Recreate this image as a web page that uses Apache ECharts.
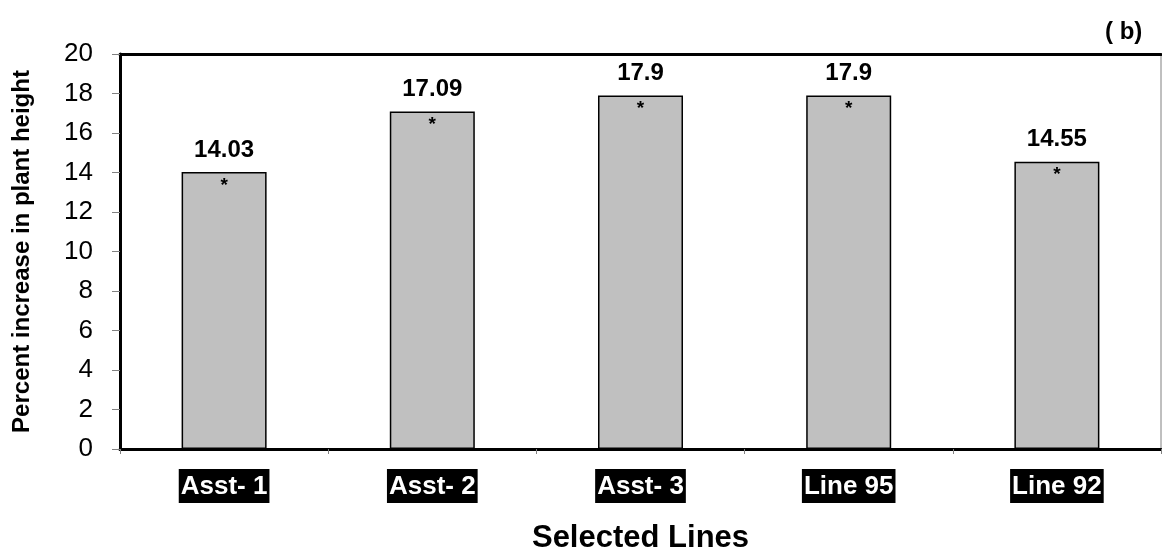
<!DOCTYPE html>
<html>
<head>
<meta charset="utf-8">
<script src="https://cdn.jsdelivr.net/npm/echarts@6/dist/echarts.min.js"></script>
<style>
  html, body { margin: 0; padding: 0; background: #fff; }
  #chart { width: 1162px; height: 550px; }
</style>
</head>
<body>
<div id="chart"></div>
<script>
// Selected lines and their percent increase in plant height
const categories = ['Asst- 1', 'Asst- 2', 'Asst- 3', 'Line 95', 'Line 92'];
const increase = [14.03, 17.09, 17.9, 17.9, 14.55];
const significance = ['*', '*', '*', '*', '*'];
const yTicks = { min: 0, max: 20, interval: 2 };

const FONT = 'Arial, "Liberation Sans", Helvetica, sans-serif';

const chart = echarts.init(document.getElementById('chart'), null, { renderer: 'canvas' });

chart.setOption({
  animation: false,
  backgroundColor: '#ffffff',
  textStyle: { fontFamily: FONT },
  grid: {
    left: 120, right: 1, top: 54, bottom: 101,
    containLabel: false,
    outerBoundsMode: 'none',
    show: true, borderColor: '#808080', borderWidth: 1, backgroundColor: 'transparent'
  },
  graphic: [{
    type: 'text',
    left: 1105, top: 20,
    style: { text: '( b)', font: 'bold 24px ' + FONT, fill: '#000' }
  }],
  xAxis: [{
    type: 'category',
    data: categories,
    position: 'bottom',
    axisLine: { lineStyle: { color: '#000', width: 3 } },
    axisTick: { show: true, alignWithLabel: false, length: 5, lineStyle: { color: '#808080', width: 1 } },
    axisLabel: {
      margin: 20,
      color: '#fff',
      fontFamily: FONT,
      fontWeight: 'bold',
      fontSize: 26,
      lineHeight: 28,
      backgroundColor: '#000',
      padding: [4, 2, 2, 2]
    },
    name: 'Selected Lines',
    nameLocation: 'middle',
    nameGap: 74,
    nameTextStyle: { fontFamily: FONT, fontWeight: 'bold', fontSize: 31, color: '#000' }
  }, {
    type: 'category',
    data: categories,
    position: 'top',
    axisLine: { lineStyle: { color: '#000', width: 3 } },
    axisTick: { show: false },
    axisLabel: { show: false }
  }],
  yAxis: {
    type: 'value',
    min: yTicks.min, max: yTicks.max, interval: yTicks.interval,
    axisLine: { show: true, lineStyle: { color: '#000', width: 3 } },
    axisTick: { show: true, length: 8, lineStyle: { color: '#808080', width: 1 } },
    splitLine: { show: false },
    axisLabel: { margin: 27, color: '#000', fontFamily: FONT, fontSize: 26 },
    name: 'Percent increase in plant height',
    nameLocation: 'middle',
    nameGap: 86,
    nameTextStyle: { fontFamily: FONT, fontWeight: 'bold', fontSize: 24, color: '#000' }
  },
  series: [{
    name: 'Increase',
    type: 'bar',
    data: increase,
    barWidth: 85,
    itemStyle: { color: '#c0c0c0', borderColor: '#000', borderWidth: 1.5 },
    label: {
      show: true,
      position: 'top',
      distance: 10,
      color: '#000',
      fontFamily: FONT,
      fontWeight: 'bold',
      fontSize: 24
    },
    z: 2
  }, {
    // significance marks drawn inside the top of each bar
    name: 'Significance',
    type: 'bar',
    data: increase,
    barWidth: 85,
    barGap: '-100%',
    itemStyle: { color: 'rgba(0,0,0,0)' },
    label: {
      show: true,
      position: 'insideTop',
      distance: 4,
      formatter: p => significance[p.dataIndex],
      color: '#000',
      fontFamily: FONT,
      fontWeight: 'bold',
      fontSize: 19
    },
    z: 3,
    silent: true
  }]
});
</script>
</body>
</html>
